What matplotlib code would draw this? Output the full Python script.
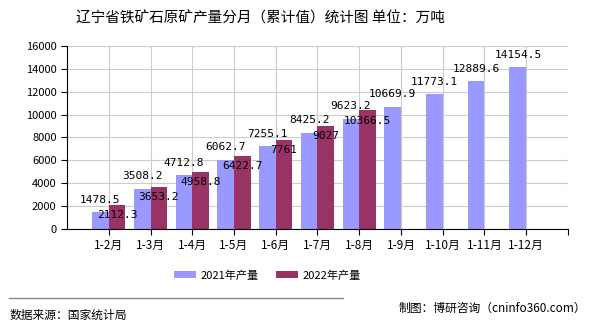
import matplotlib.pyplot as plt
import numpy as np

plt.rcParams['font.family'] = ['Noto Sans CJK SC', 'DejaVu Sans']

months = ["1-2月", "1-3月", "1-4月", "1-5月", "1-6月", "1-7月",
          "1-8月", "1-9月", "1-10月", "1-11月", "1-12月"]
prod_2021 = [1478.5, 3508.2, 4712.8, 6062.7, 7255.1, 8425.2,
             9623.2, 10669.9, 11773.1, 12889.6, 14154.5]
prod_2022 = [2112.3, 3653.2, 4958.8, 6422.7, 7761, 9027, 10366.5]
labels_2022 = ["2112.3", "3653.2", "4958.8", "6422.7", "7761", "9027", "10366.5"]

blue = "#9999ff"
red = "#993366"

fig = plt.figure(figsize=(5.9, 3.3), dpi=100)
ax = fig.add_axes([0.1136, 0.306, 0.849, 0.555])

x1 = np.arange(1, len(prod_2021) + 1)
x2 = np.arange(1, len(prod_2022) + 1)
w = 0.4

ax.bar(x1 - w / 2, prod_2021, width=w, color=blue, label="2021年产量", zorder=2)
ax.bar(x2 + w / 2, prod_2022, width=w, color=red, label="2022年产量", zorder=2)

# 2021 labels sit above the bars, 2022 labels just inside the bar top
for xi, v in zip(x1, prod_2021):
    ax.text(xi - w / 2, v + 650, f"{v:.1f}", ha="center", va="bottom",
            fontsize=8, family="DejaVu Sans Mono", zorder=3)
for xi, v, s in zip(x2, prod_2022, labels_2022):
    ax.text(xi + w / 2, v - 450, s, ha="center", va="top",
            fontsize=8, family="DejaVu Sans Mono", zorder=3)

ax.set_xlim(0, 12)
ax.set_ylim(0, 16000)
ax.set_yticks(range(0, 16001, 2000))
ax.set_xticks(list(x1) + [12])
ax.set_xticklabels(months + [""], fontsize=8.5)
ax.tick_params(axis="y", labelsize=8, length=4)
ax.tick_params(axis="x", length=4)
ax.grid(True, color="#cccccc", linewidth=0.8, zorder=0)
ax.set_axisbelow(True)
for s in ["top", "right"]:
    ax.spines[s].set_visible(False)
ax.spines["left"].set_color("black")
ax.spines["bottom"].set_color("black")

fig.text(0.442, 0.945, "辽宁省铁矿石原矿产量分月（累计值）统计图 单位：万吨",
         ha="center", va="center", fontsize=10.5)

fig.legend(loc="center", bbox_to_anchor=(0.453, 0.166), ncol=2, frameon=False,
           fontsize=8, handlelength=2.0, handleheight=0.6, columnspacing=1.5,
           handletextpad=0.4)

fig.add_artist(plt.Line2D([0.015, 0.582], [0.097, 0.097], color="#888888",
                          linewidth=1))
fig.text(0.017, 0.045, "数据来源：国家统计局", ha="left", va="center", fontsize=8.5)
fig.text(0.993, 0.065, "制图：博研咨询（cninfo360.com）", ha="right",
         va="center", fontsize=8.5)

fig.savefig("out.png", dpi=100)
